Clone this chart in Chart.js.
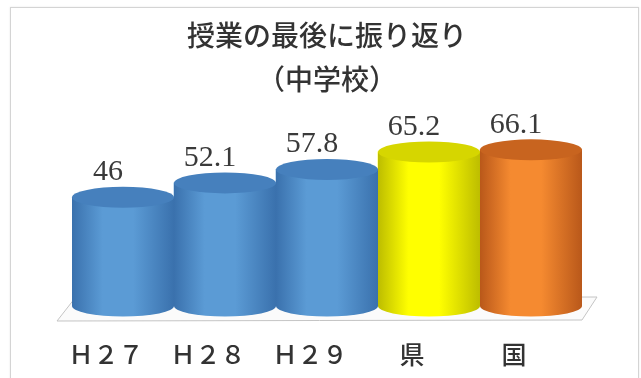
<!DOCTYPE html>
<html>
<head>
<meta charset="utf-8">
<script src="https://cdn.jsdelivr.net/npm/chart.js@4.4.1/dist/chart.umd.min.js"></script>
<style>
  body { margin: 0; background: #fff; }
  #frame { position: absolute; left: 10px; top: 7px; width: 627px; height: 400px;
           border: 1px solid #d4d4d4; box-shadow: 0 0 2px #e8e8e8; }
  #myChart { position: absolute; left: 0; top: 0; }
</style>
</head>
<body>
<div id="frame"></div>
<canvas id="myChart" width="641" height="378"></canvas>
<script>
var labels = ["Ｈ２７", "Ｈ２８", "Ｈ２９", "県", "国"];
var values = [46, 52.1, 57.8, 65.2, 66.1];
var barColors = ["#5b9bd5", "#5b9bd5", "#5b9bd5", "#ffff00", "#f58a30"];
// edge / top shades for the cylinder look
var edgeColors = ["#3a71ad", "#3a71ad", "#3a71ad", "#bdbd00", "#b9581a"];
var topColors = ["#4680bd", "#4680bd", "#4680bd", "#d6d600", "#c8641f"];
var titleLines = ["授業の最後に振り返り", "（中学校）"];

var cylinders = {
  id: 'cylinders',
  beforeDatasetsDraw: function(chart) {
    var ctx = chart.ctx, a = chart.chartArea;
    var base = chart.scales.y.getPixelForValue(0);
    ctx.save();
    ctx.beginPath();
    ctx.moveTo(a.left - 15, base + 15);
    ctx.lineTo(a.right, base + 14);
    ctx.lineTo(a.right + 15, base - 9);
    ctx.lineTo(a.left + 3, base - 8);
    ctx.closePath();
    ctx.fillStyle = '#fbfbfb';
    ctx.fill();
    ctx.strokeStyle = '#c4c4c4';
    ctx.lineWidth = 1;
    ctx.stroke();
    ctx.restore();
  },
  afterDatasetsDraw: function(chart) {
    var ctx = chart.ctx;
    var meta = chart.getDatasetMeta(0);
    var ry = 10.5;
    ctx.save();
    meta.data.forEach(function(bar, i) {
      var w = bar.width, cx = bar.x, top = bar.y, base = bar.base;
      var l = cx - w / 2, r = cx + w / 2;
      var g = ctx.createLinearGradient(l, 0, r, 0);
      g.addColorStop(0, edgeColors[i]);
      g.addColorStop(0.3, barColors[i]);
      g.addColorStop(0.6, barColors[i]);
      g.addColorStop(1, edgeColors[i]);
      ctx.beginPath();
      ctx.moveTo(l, top);
      ctx.lineTo(l, base);
      ctx.ellipse(cx, base, w / 2, ry, 0, Math.PI, 0, true);
      ctx.lineTo(r, top);
      ctx.closePath();
      ctx.fillStyle = g;
      ctx.fill();
      ctx.beginPath();
      ctx.ellipse(cx, top, w / 2, ry, 0, 0, Math.PI * 2);
      ctx.fillStyle = topColors[i];
      ctx.fill();
      // value label
      ctx.font = '30px "Liberation Serif", serif';
      ctx.fillStyle = '#3a3a3a';
      ctx.textAlign = 'center';
      ctx.textBaseline = 'middle';
      ctx.fillText(String(values[i]), cx - 15, top - 25);
    });
    ctx.restore();
  }
};

var ctx = document.getElementById('myChart');
var myChart = new Chart(ctx, {
  type: 'bar',
  data: {
    labels: labels,
    datasets: [{
      data: values,
      backgroundColor: barColors,
      barPercentage: 1,
      categoryPercentage: 1
    }]
  },
  options: {
    responsive: false,
    animation: false,
    layout: { padding: { left: 72, right: 59, top: 0, bottom: 9 } },
    plugins: {
      legend: { display: false },
      tooltip: { enabled: false },
      title: {
        display: true,
        text: titleLines,
        color: '#333',
        font: { family: '"Noto Sans CJK JP"', size: 28, weight: '500', lineHeight: 1.55 },
        padding: { top: 14, bottom: 28 }
      }
    },
    scales: {
      x: {
        grid: { display: false },
        border: { display: false },
        afterFit: function(scale) { scale.height = 63; },
        ticks: {
          color: '#333',
          padding: 25,
          labelOffset: -17,
          font: { family: '"Noto Sans CJK JP"', size: 25, weight: '500' }
        }
      },
      y: {
        display: false,
        min: 0,
        max: 75
      }
    }
  },
  plugins: [cylinders]
});
</script>
</body>
</html>
